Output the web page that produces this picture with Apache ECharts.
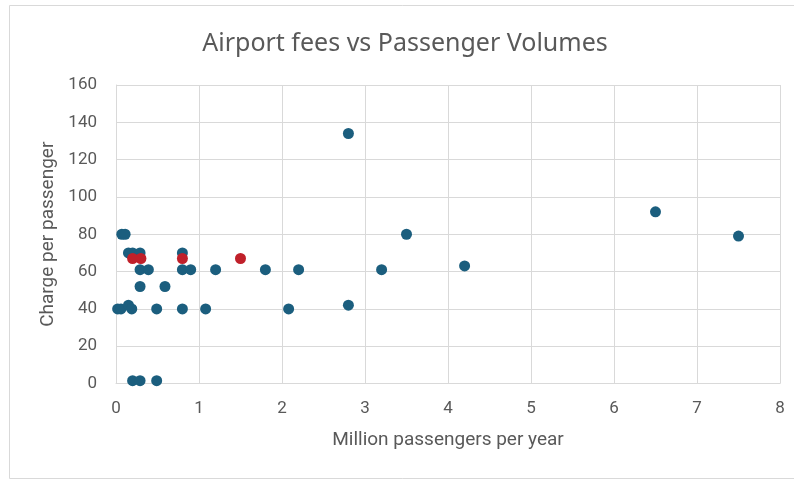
<!DOCTYPE html>
<html>
<head>
<meta charset="utf-8">
<script src="https://cdn.jsdelivr.net/npm/echarts@6/dist/echarts.min.js"></script>
<style>
html,body{margin:0;padding:0;background:#fff;}
#chart{width:794px;height:479px;}
</style>
</head>
<body>
<div id="chart"></div>
<script>
// Million passengers per year (x) and charge per passenger (y)
const blueX = [0.07, 0.11, 0.15, 0.20, 0.29, 0.80, 0.29, 0.39, 0.80, 0.90, 1.20, 1.80, 2.20, 3.20,
               0.29, 0.59, 0.02, 0.06, 0.15, 0.19, 0.49, 0.80, 1.08, 2.08, 0.20, 0.29, 0.49,
               2.80, 2.80, 3.50, 4.20, 6.50, 7.50];
const blueY = [80, 80, 70, 70, 70, 70, 61, 61, 61, 61, 61, 61, 61, 61,
               52, 52, 40, 40, 42, 40, 40, 40, 40, 40, 1.5, 1.5, 1.5,
               134, 42, 80, 63, 92, 79];
const redX = [0.20, 0.30, 0.80, 1.50];
const redY = [67, 67, 67, 67];
const xTicks = [0, 1, 2, 3, 4, 5, 6, 7, 8];
const yTicks = [0, 20, 40, 60, 80, 100, 120, 140, 160];

const chart = echarts.init(document.getElementById('chart'));
const font = 'Roboto, "Liberation Sans", sans-serif';
chart.setOption({
  animation: false,
  backgroundColor: '#fff',
  title: {
    text: 'Airport fees vs Passenger Volumes',
    left: 400, top: 26, textAlign: 'center',
    textStyle: {fontFamily: '"Noto Sans", sans-serif', fontWeight: 'normal', fontSize: 25, color: '#595959'}
  },
  grid: {left: 116, right: 14, top: 85, bottom: 95.5, containLabel: false},
  xAxis: {
    type: 'value', min: xTicks[0], max: xTicks[xTicks.length - 1], interval: 1,
    name: 'Million passengers per year', nameLocation: 'middle', nameGap: 47,
    nameTextStyle: {fontFamily: font, fontSize: 19, color: '#595959'},
    axisLine: {show: true, lineStyle: {color: '#D9D9D9'}},
    axisTick: {show: false},
    axisLabel: {fontFamily: font, fontSize: 17, color: '#595959', margin: 17},
    splitLine: {show: true, lineStyle: {color: '#D9D9D9', width: 1}}
  },
  yAxis: {
    type: 'value', min: yTicks[0], max: yTicks[yTicks.length - 1], interval: 20,
    name: 'Charge per passenger', nameLocation: 'middle', nameGap: 58, nameRotate: 90,
    nameTextStyle: {fontFamily: font, fontSize: 19, color: '#595959'},
    axisLine: {show: true, lineStyle: {color: '#D9D9D9'}},
    axisTick: {show: false},
    axisLabel: {fontFamily: font, fontSize: 17, color: '#595959', margin: 19},
    splitLine: {show: true, lineStyle: {color: '#D9D9D9', width: 1}}
  },
  graphic: [{
    type: 'rect', left: 7, top: 3, silent: true,
    shape: {width: 800, height: 473},
    style: {fill: 'none', stroke: '#D9D9D9', lineWidth: 1}
  }],
  series: [
    {type: 'scatter', symbolSize: 11, itemStyle: {color: '#1B5E7E', opacity: 1},
     data: blueX.map((x, i) => [x, blueY[i]])},
    {type: 'scatter', symbolSize: 11, itemStyle: {color: '#C0202A', opacity: 1},
     data: redX.map((x, i) => [x, redY[i]])}
  ]
});
</script>
</body>
</html>
